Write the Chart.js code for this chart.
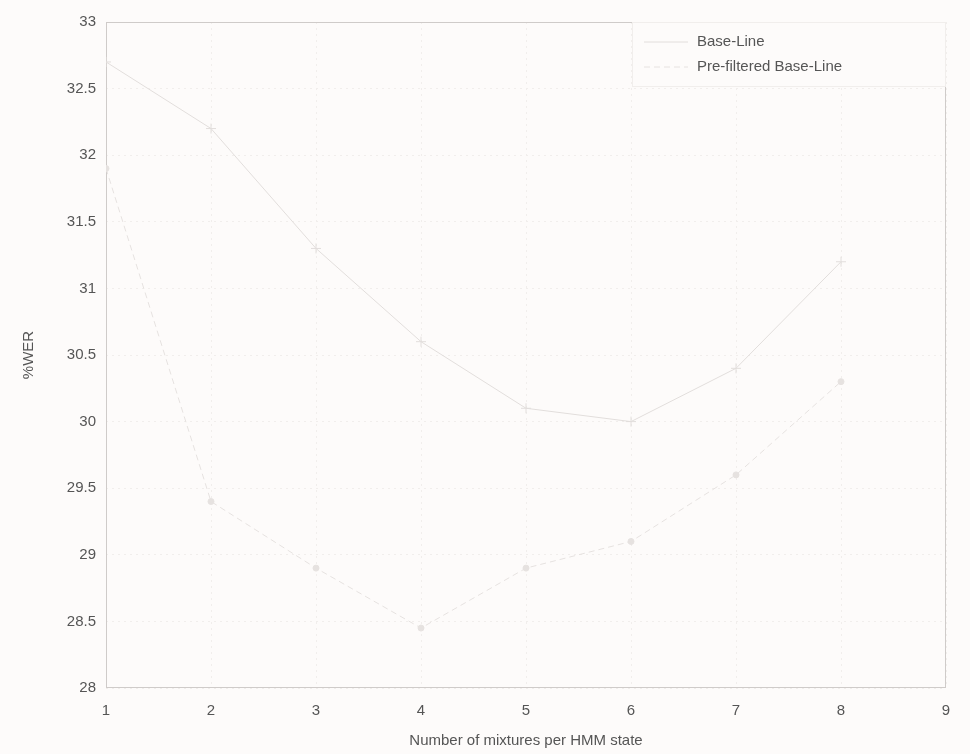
<!DOCTYPE html>
<html>
<head>
<meta charset="utf-8">
<title>%WER vs mixtures</title>
<script src="https://cdn.jsdelivr.net/npm/chart.js@4/dist/chart.umd.min.js"></script>
<style>
  html, body { margin: 0; padding: 0; background: #fdfbfa; }
  #wrap { width: 970px; height: 754px; position: relative; }
</style>
</head>
<body>
<div id="wrap"><canvas id="werChart"></canvas></div>
<script>
const mixtures = [1, 2, 3, 4, 5, 6, 7, 8];
const baseLine = [32.7, 32.2, 31.3, 30.6, 30.1, 30.0, 30.4, 31.2];
const preFiltered = [31.9, 29.4, 28.9, 28.45, 28.9, 29.1, 29.6, 30.3];

const xTicks = [1, 2, 3, 4, 5, 6, 7, 8, 9];
const yTicks = [28, 28.5, 29, 29.5, 30, 30.5, 31, 31.5, 32, 32.5, 33];
const seriesNames = ['Base-Line', 'Pre-filtered Base-Line'];

const TEXT = '#555';
const FONT = '"Liberation Sans", Arial, sans-serif';

const toPoints = vals => vals.map((v, i) => ({ x: mixtures[i], y: v }));

// MATLAB style legend drawn inside the axes, top-right
const insideLegend = {
    id: 'insideLegend',
    afterDraw(chart) {
        const ctx = chart.ctx;
        const area = chart.chartArea;
        const sets = chart.data.datasets;
        const boxRight = area.right;
        const boxLeft = 632;
        const boxTop = area.top;
        const rowH = 25;
        const boxH = 14 + rowH * sets.length;
        ctx.save();
        ctx.fillStyle = '#fdfbfa';
        ctx.fillRect(boxLeft, boxTop, boxRight - boxLeft, boxH);
        ctx.strokeStyle = '#f1eeec';
        ctx.lineWidth = 1;
        ctx.strokeRect(boxLeft + 0.5, boxTop + 0.5, boxRight - boxLeft - 1, boxH);
        ctx.font = '15px ' + FONT;
        ctx.textBaseline = 'middle';
        sets.forEach((ds, i) => {
            const y = boxTop + 20 + i * rowH;
            ctx.strokeStyle = ds.borderColor;
            ctx.setLineDash(ds.borderDash || []);
            ctx.beginPath();
            ctx.moveTo(644, y);
            ctx.lineTo(688, y);
            ctx.stroke();
            ctx.setLineDash([]);
            ctx.fillStyle = TEXT;
            ctx.fillText(ds.label, 697, y);
        });
        ctx.restore();
    }
};

// Box round the axes
const axesBox = {
    id: 'axesBox',
    beforeDatasetsDraw(chart) {
        const { ctx, chartArea: a } = chart;
        ctx.save();
        ctx.strokeStyle = '#cfcbc9';
        ctx.lineWidth = 1;
        ctx.strokeRect(a.left + 0.5, a.top + 0.5, a.right - a.left - 1, a.bottom - a.top - 1);
        ctx.restore();
    }
};

const ctx = document.getElementById('werChart').getContext('2d');
new Chart(ctx, {
    type: 'line',
    data: {
        datasets: [{
            label: seriesNames[0],
            data: toPoints(baseLine),
            borderColor: '#e2dedc',
            backgroundColor: '#e2dedc',
            borderWidth: 1,
            pointStyle: 'cross',
            pointRadius: 5,
            tension: 0
        }, {
            label: seriesNames[1],
            data: toPoints(preFiltered),
            borderColor: '#e6e2e0',
            backgroundColor: '#e6e2e0',
            borderWidth: 1,
            borderDash: [6, 4],
            pointStyle: 'circle',
            pointRadius: 3,
            tension: 0
        }]
    },
    options: {
        responsive: true,
        maintainAspectRatio: false,
        animation: false,
        layout: { padding: { top: 22, right: 24, left: 0, bottom: 0 } },
        plugins: {
            legend: { display: false },
            tooltip: { enabled: false }
        },
        scales: {
            x: {
                type: 'linear',
                min: 1,
                max: 9,
                afterBuildTicks: s => { s.ticks = xTicks.map(v => ({ value: v })); },
                afterFit: s => { s.height = 66; },
                grid: { color: '#f1eeec', drawTicks: false },
                border: { display: false, dash: [2, 4] },
                ticks: {
                    color: TEXT,
                    padding: 14,
                    font: { family: FONT, size: 15 },
                    callback: v => String(v)
                },
                title: {
                    display: true,
                    text: 'Number of mixtures per HMM state',
                    color: TEXT,
                    font: { family: FONT, size: 15 },
                    padding: { top: 0, bottom: 4 }
                }
            },
            y: {
                type: 'linear',
                min: 28,
                max: 33,
                afterBuildTicks: s => { s.ticks = yTicks.map(v => ({ value: v })); },
                afterFit: s => { s.width = 106; },
                grid: { color: '#f1eeec', drawTicks: false },
                border: { display: false, dash: [2, 4] },
                ticks: {
                    color: TEXT,
                    padding: 10,
                    font: { family: FONT, size: 15 },
                    callback: v => String(v)
                },
                title: {
                    display: true,
                    text: '%WER',
                    color: TEXT,
                    font: { family: FONT, size: 15 },
                    padding: { top: 20, bottom: 0 }
                }
            }
        }
    },
    plugins: [axesBox, insideLegend]
});
</script>
</body>
</html>
